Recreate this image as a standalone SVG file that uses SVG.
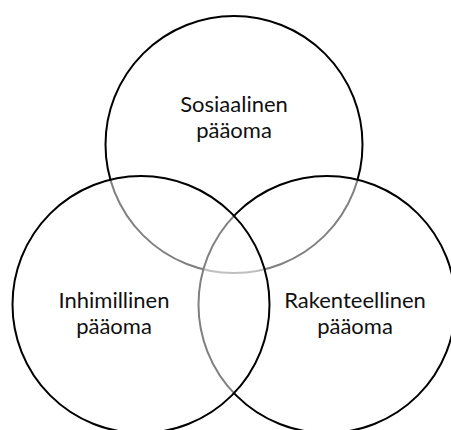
<svg xmlns="http://www.w3.org/2000/svg" width="451" height="430" viewBox="0 0 451 430">
  <style>
    .set { fill: #ffffff; fill-opacity: 0.5; stroke: #000000; stroke-width: 2; }
    .label { font-family: "Lato", "Open Sans", "Liberation Sans", sans-serif; font-size: 22px; fill: #111111; text-anchor: middle; }
  </style>
  <rect width="451" height="430" fill="#ffffff"/>
  <!-- Semi-transparent white fills make the arcs underneath show grey -->
  <g id="sosiaalinen">
    <circle class="set" cx="234" cy="144.5" r="128.5"/>
    <text class="label" x="234" y="112">Sosiaalinen</text>
    <text class="label" x="234" y="138">pääoma</text>
  </g>
  <g id="rakenteellinen">
    <circle class="set" cx="327" cy="304.5" r="128.5"/>
    <text class="label" x="355" y="308">Rakenteellinen</text>
    <text class="label" x="355" y="334">pääoma</text>
  </g>
  <g id="inhimillinen">
    <circle class="set" cx="141" cy="304.5" r="128.5"/>
    <text class="label" x="114" y="308">Inhimillinen</text>
    <text class="label" x="114" y="334">pääoma</text>
  </g>
  <g id="connectors"/>
</svg>
